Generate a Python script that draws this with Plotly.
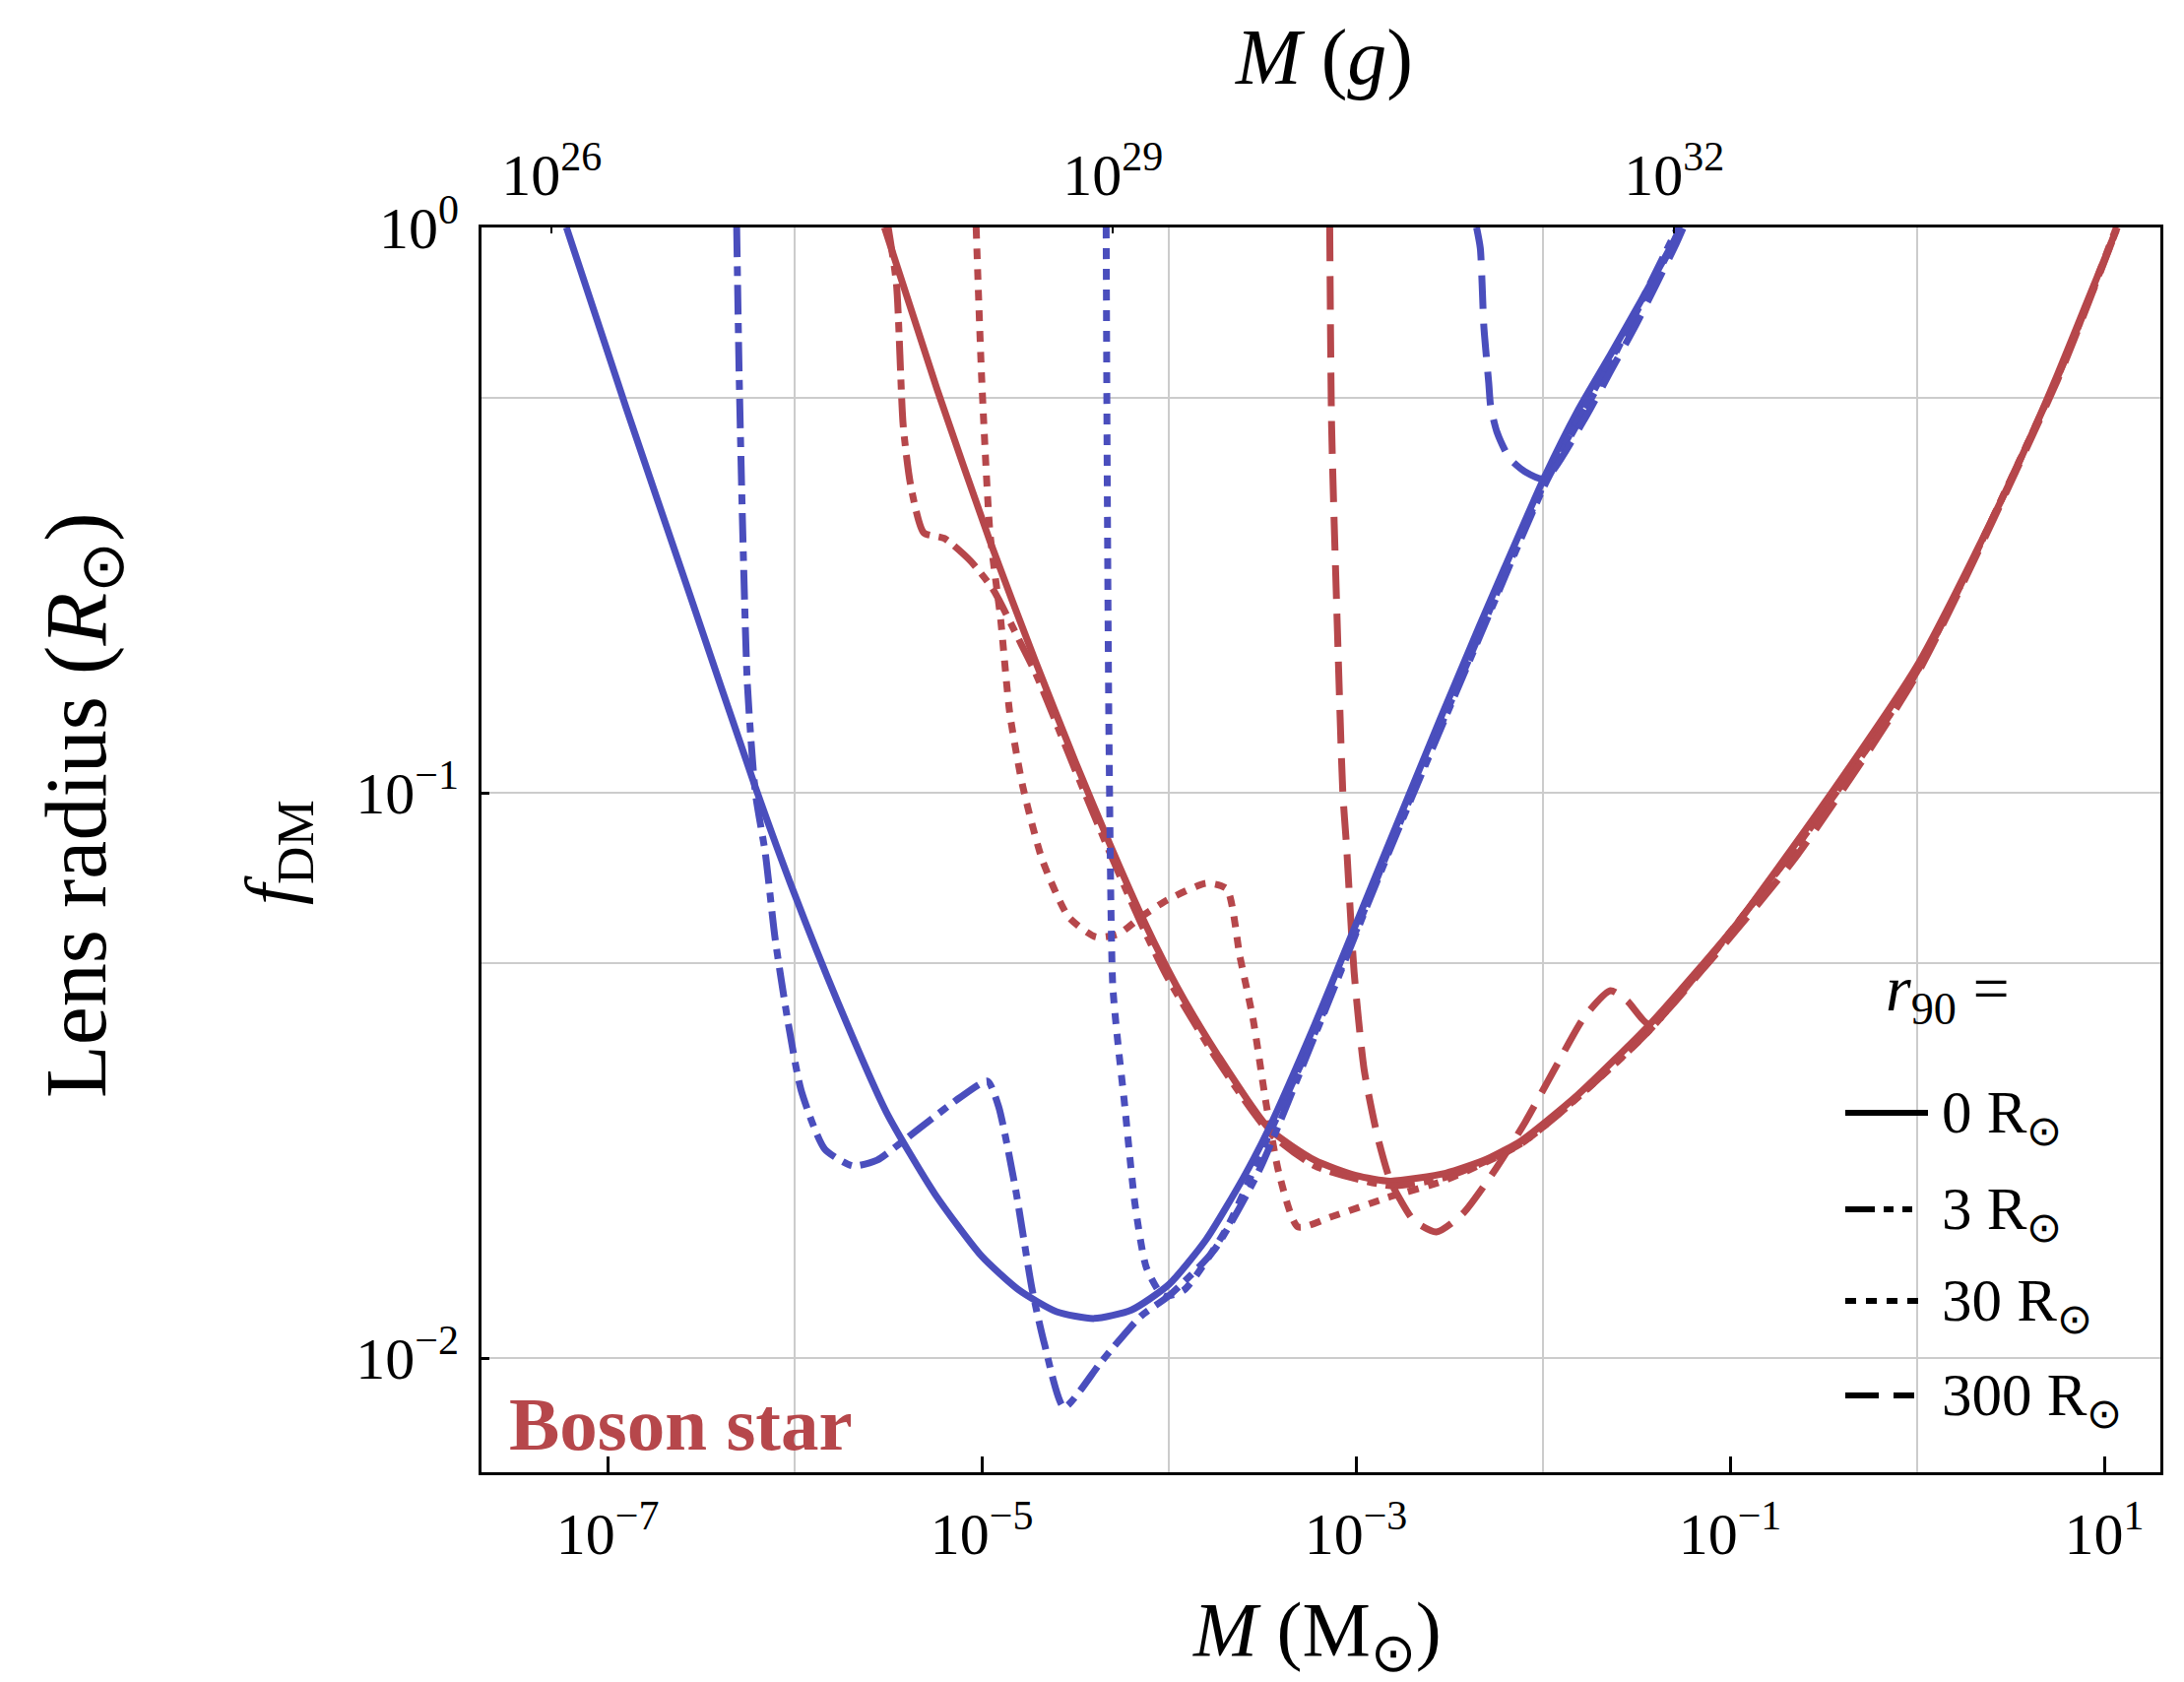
import numpy as np
import plotly.graph_objects as go

MSUN_G = 1.989e33  # grams per solar mass (top axis)

# ---------------- data: log10(M / Msun), log10(f_DM) ----------------
blue_0_logM = [-7.22, -6.90, -6.56, -6.21, -6.0, -5.77, -5.51, -5.25, -5.0, -4.80, -4.60, -4.40, -4.20,
               -4.00, -3.80, -3.60, -3.465, -3.22, -3.04, -2.83, -2.55, -2.34, -2.17, -1.99, -1.816,
               -1.64, -1.465, -1.26]
blue_0_logf = [0.0, -0.32, -0.65, -0.99, -1.18, -1.37, -1.565, -1.71, -1.82, -1.88, -1.918, -1.93, -1.915,
               -1.87, -1.79, -1.68, -1.594, -1.41, -1.265, -1.095, -0.87, -0.705, -0.575, -0.44, -0.325,
               -0.225, -0.123, 0.0]

blue_3_logM = [-6.31, -6.297, -6.28, -6.253, -6.21, -6.157, -6.105, -6.035, -5.965, -5.84, -5.69, -5.56,
               -5.435, -5.28, -5.12, -4.97, -4.91, -4.82, -4.73, -4.665, -4.56, -4.36, -4.15, -4.0,
               -3.76, -3.52, -3.22, -2.83, -2.34, -1.99, -1.64, -1.28]
blue_3_logf = [0.0, -0.257, -0.507, -0.807, -1.0, -1.107, -1.257, -1.407, -1.527, -1.63, -1.66, -1.65,
               -1.62, -1.58, -1.54, -1.51, -1.555, -1.70, -1.88, -1.975, -2.087, -2.006, -1.926, -1.89,
               -1.81, -1.67, -1.43, -1.11, -0.725, -0.455, -0.24, 0.0]

blue_30_logM = [-4.335, -4.33, -4.32, -4.30, -4.27, -4.24, -4.18, -4.12, -4.03, -3.92, -3.69, -3.465,
                -3.22, -2.83, -2.34, -1.99, -1.64, -1.30, -1.27]
blue_30_logf = [0.0, -0.4, -0.9, -1.34, -1.45, -1.54, -1.73, -1.84, -1.89, -1.88, -1.77, -1.605,
                -1.425, -1.105, -0.72, -0.45, -0.235, -0.025, 0.0]

blue_300_logM = [-2.355, -2.335, -2.316, -2.29, -2.28, -2.246, -2.18, -2.096, -1.99, -1.78, -1.64,
                 -1.50, -1.29, -1.25]
blue_300_logf = [0.0, -0.037, -0.176, -0.275, -0.316, -0.362, -0.408, -0.432, -0.445, -0.34, -0.255,
                 -0.17, -0.03, 0.0]

red_0_logM = [-5.52, -5.24, -4.956, -4.71, -4.50, -4.31, -4.15, -4.01, -3.92, -3.746, -3.465, -3.22,
              -3.0, -2.816, -2.52, -2.3, -2.114, -1.816, -1.43, -1.184, -0.96, -0.51, 0.0, 0.395, 0.60,
              0.75, 0.91, 1.07]
red_0_logf = [0.0, -0.285, -0.555, -0.77, -0.945, -1.095, -1.215, -1.31, -1.365, -1.46, -1.594, -1.65,
              -1.677, -1.687, -1.673, -1.648, -1.615, -1.535, -1.41, -1.318, -1.23, -1.025, -0.775,
              -0.52, -0.375, -0.26, -0.13, 0.0]

red_3_logM = [-5.50, -5.456, -5.42, -5.38, -5.31, -5.20, -5.06, -4.94, -4.80, -4.71, -4.50, -4.31,
              -4.15, -4.01, -3.746, -3.465, -3.22, -2.816, -2.52, -2.114, -1.43, -0.51, 0.0, 0.75, 1.07]
red_3_logf = [0.0, -0.10, -0.35, -0.456, -0.54, -0.55, -0.59, -0.64, -0.73, -0.79, -0.96, -1.11,
              -1.23, -1.325, -1.47, -1.60, -1.66, -1.695, -1.68, -1.62, -1.42, -1.035, -0.785, -0.265, 0.0]

red_30_logM = [-5.03, -5.0, -4.956, -4.90, -4.85, -4.78, -4.675, -4.535, -4.39, -4.27, -4.15, -4.01,
               -3.80, -3.69, -3.62, -3.55, -3.48, -3.41, -3.31, -3.13, -2.83, -2.52, -2.114, -1.43,
               -0.51, 0.0, 0.75, 1.065]
red_30_logf = [0.0, -0.27, -0.54, -0.69, -0.86, -0.99, -1.12, -1.22, -1.255, -1.25, -1.22, -1.19,
               -1.16, -1.17, -1.29, -1.40, -1.55, -1.675, -1.768, -1.75, -1.716, -1.685, -1.62, -1.42,
               -1.035, -0.785, -0.265, 0.0]

red_300_logM = [-3.14, -3.13, -3.10, -3.07, -3.05, -3.01, -2.956, -2.886, -2.816, -2.763, -2.69, -2.57,
                -2.43, -2.25, -2.096, -1.94, -1.78, -1.64, -1.55, -1.43, -1.14, -0.64, 0.0, 0.75, 1.07]
red_300_logf = [0.0, -0.35, -0.70, -1.0, -1.095, -1.316, -1.49, -1.606, -1.687, -1.72, -1.757, -1.777,
                -1.745, -1.664, -1.583, -1.49, -1.397, -1.35, -1.368, -1.41, -1.31, -1.11, -0.79, -0.27,
                0.0]

# axis ticks
x_tickvals = [1e-7, 1e-5, 1e-3, 1e-1, 1e1]
x_ticktext = ["10<sup>\u22127</sup>", "10<sup>\u22125</sup>", "10<sup>\u22123</sup>",
              "10<sup>\u22121</sup>", "10<sup>1</sup>"]
x_gridvals = [1e-6, 1e-4, 1e-2, 1e0]
x2_tickvals = [1e26, 1e29, 1e32]
x2_ticktext = ["10<sup>26</sup>", "10<sup>29</sup>", "10<sup>32</sup>"]
y_tickvals = [1, 0.1, 0.01]
y_ticktext = ["10<sup>0</sup>", "10<sup>\u22121</sup>", "10<sup>\u22122</sup>"]
y_gridvals = [0.5, 0.05]

legend_r = ["0", "3", "30", "300"]

# ---------------- styling ----------------
BLUE = "#4a4ebd"
RED = "#b6474b"
FONT = "Liberation Serif"
GRID = "#cccccc"
DASH = {"0": "solid", "3": "30px,9px,10px,9px", "30": "11px,10px", "300": "34px,15px"}
LW = 7

W, H = 2218, 1708
L, R, T, B = 489, 2194, 231, 1495


def pxx(xp):
    return (xp - L) / (R - L)


def pxy(yp):
    return (B - yp) / (B - T)


fig = go.Figure()

series = [
    (RED, "0", red_0_logM, red_0_logf),
    (RED, "3", red_3_logM, red_3_logf),
    (RED, "30", red_30_logM, red_30_logf),
    (RED, "300", red_300_logM, red_300_logf),
    (BLUE, "0", blue_0_logM, blue_0_logf),
    (BLUE, "3", blue_3_logM, blue_3_logf),
    (BLUE, "30", blue_30_logM, blue_30_logf),
    (BLUE, "300", blue_300_logM, blue_300_logf),
]
for color, r, lm, lf in series:
    fig.add_trace(go.Scatter(
        x=np.power(10.0, np.array(lm)), y=np.power(10.0, np.array(lf)),
        mode="lines", line=dict(color=color, width=LW, dash=DASH[r], shape="spline", smoothing=0.6),
        showlegend=False, hoverinfo="skip", cliponaxis=True))

# invisible trace attaching the top (grams) axis
fig.add_trace(go.Scatter(
    x=np.power(10.0, np.array(blue_0_logM)) * MSUN_G, y=np.power(10.0, np.array(blue_0_logf)),
    xaxis="x2", yaxis="y", mode="lines", opacity=0, line=dict(width=1),
    showlegend=False, hoverinfo="skip"))

xmin, xmax = -7.674, 1.30
tickfont = dict(family=FONT, size=60, color="black")

fig.update_layout(
    width=W, height=H,
    margin=dict(l=L, r=W - R, t=T, b=H - B, pad=0),
    paper_bgcolor="white", plot_bgcolor="white",
    showlegend=False,
    xaxis=dict(type="log", range=[xmin, xmax], tickmode="array", tickvals=x_tickvals,
               ticktext=x_ticktext, ticks="inside", ticklen=16, tickwidth=3, tickcolor="black",
               showgrid=False, zeroline=False, showline=True, linecolor="black", linewidth=3,
               tickfont=tickfont, ticklabelstandoff=8,
               minor=dict(tickmode="array", tickvals=x_gridvals, showgrid=True, gridcolor=GRID,
                          gridwidth=2, ticks=""),
               anchor="y"),
    xaxis2=dict(type="log", range=[xmin + np.log10(MSUN_G), xmax + np.log10(MSUN_G)],
                overlaying="x", side="top", anchor="y", tickmode="array", tickvals=x2_tickvals,
                ticktext=x2_ticktext, ticks="inside", ticklen=6, tickwidth=2, tickcolor="black",
                showgrid=False, zeroline=False, showline=True, linecolor="black", linewidth=3,
                tickfont=tickfont, ticklabelstandoff=6),
    yaxis=dict(type="log", range=[-2.202, 0], tickmode="array", tickvals=y_tickvals,
               ticktext=y_ticktext, ticks="inside", ticklen=8, tickwidth=3, tickcolor="black",
               showgrid=True, gridcolor=GRID, gridwidth=2, zeroline=False, showline=True,
               linecolor="black", linewidth=3, mirror=True, tickfont=tickfont, ticklabelstandoff=8,
               minor=dict(tickmode="array", tickvals=y_gridvals, showgrid=True, gridcolor=GRID,
                          gridwidth=2, ticks="")),
)

shapes = [
    # white legend background covering grid lines
    dict(type="rect", xref="paper", yref="paper", x0=pxx(1850), x1=1.0, y0=0.0, y1=pxy(1057),
         fillcolor="white", line=dict(width=0), layer="between"),
    dict(type="rect", xref="paper", yref="paper", x0=pxx(1900), x1=pxx(2060), y0=pxy(1057),
         y1=pxy(955), fillcolor="white", line=dict(width=0), layer="between"),
]
annotations = []

row_y = [1130, 1228, 1321, 1417]
sample_len = [84, 68, 78, 70]
for r, yy, ln in zip(legend_r, row_y, sample_len):
    shapes.append(dict(type="line", xref="paper", yref="paper", x0=pxx(1874), x1=pxx(1874 + ln),
                       y0=pxy(yy), y1=pxy(yy), line=dict(color="black", width=6, dash=DASH[r]),
                       layer="above"))
    annotations.append(dict(xref="paper", yref="paper", x=pxx(1970), y=pxy(yy + 4), xanchor="left",
                            yanchor="middle", showarrow=False, text=f"{r} R<sub>\u2299</sub>",
                            font=dict(family=FONT, size=61, color="black")))

annotations += [
    dict(xref="paper", yref="paper", x=pxx(1978), y=pxy(1008), xanchor="center", yanchor="middle",
         showarrow=False, text="<i>r</i><sub>90</sub> =", font=dict(family=FONT, size=66, color="black")),
    dict(xref="paper", yref="paper", x=pxx(691), y=pxy(1446), xanchor="center", yanchor="middle",
         showarrow=False, text="<b>Boson star</b>", font=dict(family=FONT, size=77, color=RED)),
    dict(xref="paper", yref="paper", x=pxx(1337), y=pxy(1660), xanchor="center", yanchor="middle",
         showarrow=False, text="<i>M</i> (M<sub>\u2299</sub>)", font=dict(family=FONT, size=78, color="black")),
    dict(xref="paper", yref="paper", x=pxx(1344), y=pxy(59), xanchor="center", yanchor="middle",
         showarrow=False, text="<i>M</i> (<i>g</i>)", font=dict(family=FONT, size=80, color="black")),
    dict(xref="paper", yref="paper", x=pxx(83), y=pxy(818), xanchor="center", yanchor="middle",
         showarrow=False, textangle=-90, text="Lens radius (<i>R</i><sub>\u2299</sub>)",
         font=dict(family=FONT, size=88, color="black")),
    dict(xref="paper", yref="paper", x=pxx(282), y=pxy(866), xanchor="center", yanchor="middle",
         showarrow=False, textangle=-90, text="<i>f</i><sub>DM</sub>",
         font=dict(family=FONT, size=76, color="black")),
]

fig.update_layout(shapes=shapes, annotations=annotations)
fig.write_html("out.html")
